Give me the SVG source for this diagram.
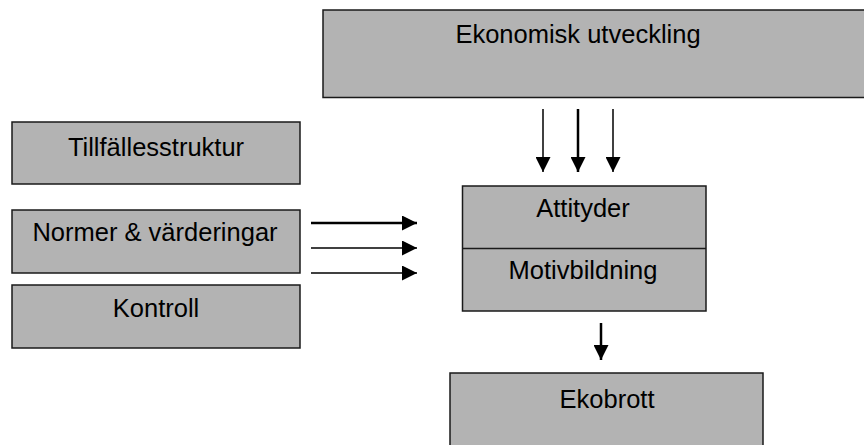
<svg xmlns="http://www.w3.org/2000/svg" width="864" height="445" viewBox="0 0 864 445">
<style>
.box{fill:#b3b3b3;stroke:#1a1a1a;stroke-width:1.5}
.t{font-family:"Liberation Sans",Arial,sans-serif;font-size:25.5px;fill:#000;text-anchor:middle}
.c{stroke:#000;stroke-width:1.5;fill:none}
.k{stroke:#000;stroke-width:2.5;fill:none}
</style>
<defs>
<marker id="ah" viewBox="0 0 15 15" refX="15" refY="7.5" markerWidth="15" markerHeight="15" markerUnits="userSpaceOnUse" orient="auto">
<path d="M0,0 L15,7.5 L0,15 Z" fill="#000"/>
</marker>
</defs>
<rect width="864" height="445" fill="#fff"/>
<g id="ekonomisk">
<rect class="box" x="323" y="10" width="560" height="87.5"/>
<text class="t" x="578" y="43">Ekonomisk utveckling</text>
</g>
<g id="tillfalle">
<rect class="box" x="12" y="122" width="288" height="62"/>
<text class="t" x="156" y="156">Tillfällesstruktur</text>
</g>
<g id="normer">
<rect class="box" x="12" y="210" width="288" height="63"/>
<text class="t" x="155" y="241">Normer &amp; värderingar</text>
</g>
<g id="kontroll">
<rect class="box" x="12" y="285" width="288" height="63"/>
<text class="t" x="156" y="317">Kontroll</text>
</g>
<g id="attityder">
<rect class="box" x="462.5" y="186" width="243.5" height="125"/>
<line x1="462.5" y1="248.5" x2="706" y2="248.5" stroke="#1a1a1a" stroke-width="1.5"/>
<text class="t" x="583" y="217">Attityder</text>
<text class="t" x="583" y="279">Motivbildning</text>
</g>
<g id="ekobrott">
<rect class="box" x="450" y="373" width="313" height="90"/>
<text class="t" x="607" y="408">Ekobrott</text>
</g>
<g id="connectors">
<line class="c" x1="543" y1="109" x2="543" y2="172" marker-end="url(#ah)"/>
<line class="k" x1="578" y1="109" x2="578" y2="172" marker-end="url(#ah)"/>
<line class="c" x1="613" y1="109" x2="613" y2="172" marker-end="url(#ah)"/>
<line class="k" x1="311" y1="223" x2="417" y2="223" marker-end="url(#ah)"/>
<line class="c" x1="311" y1="248" x2="417" y2="248" marker-end="url(#ah)"/>
<line class="c" x1="311" y1="273" x2="417" y2="273" marker-end="url(#ah)"/>
<line class="k" x1="601" y1="323" x2="601" y2="360" marker-end="url(#ah)"/>
</g>
</svg>
